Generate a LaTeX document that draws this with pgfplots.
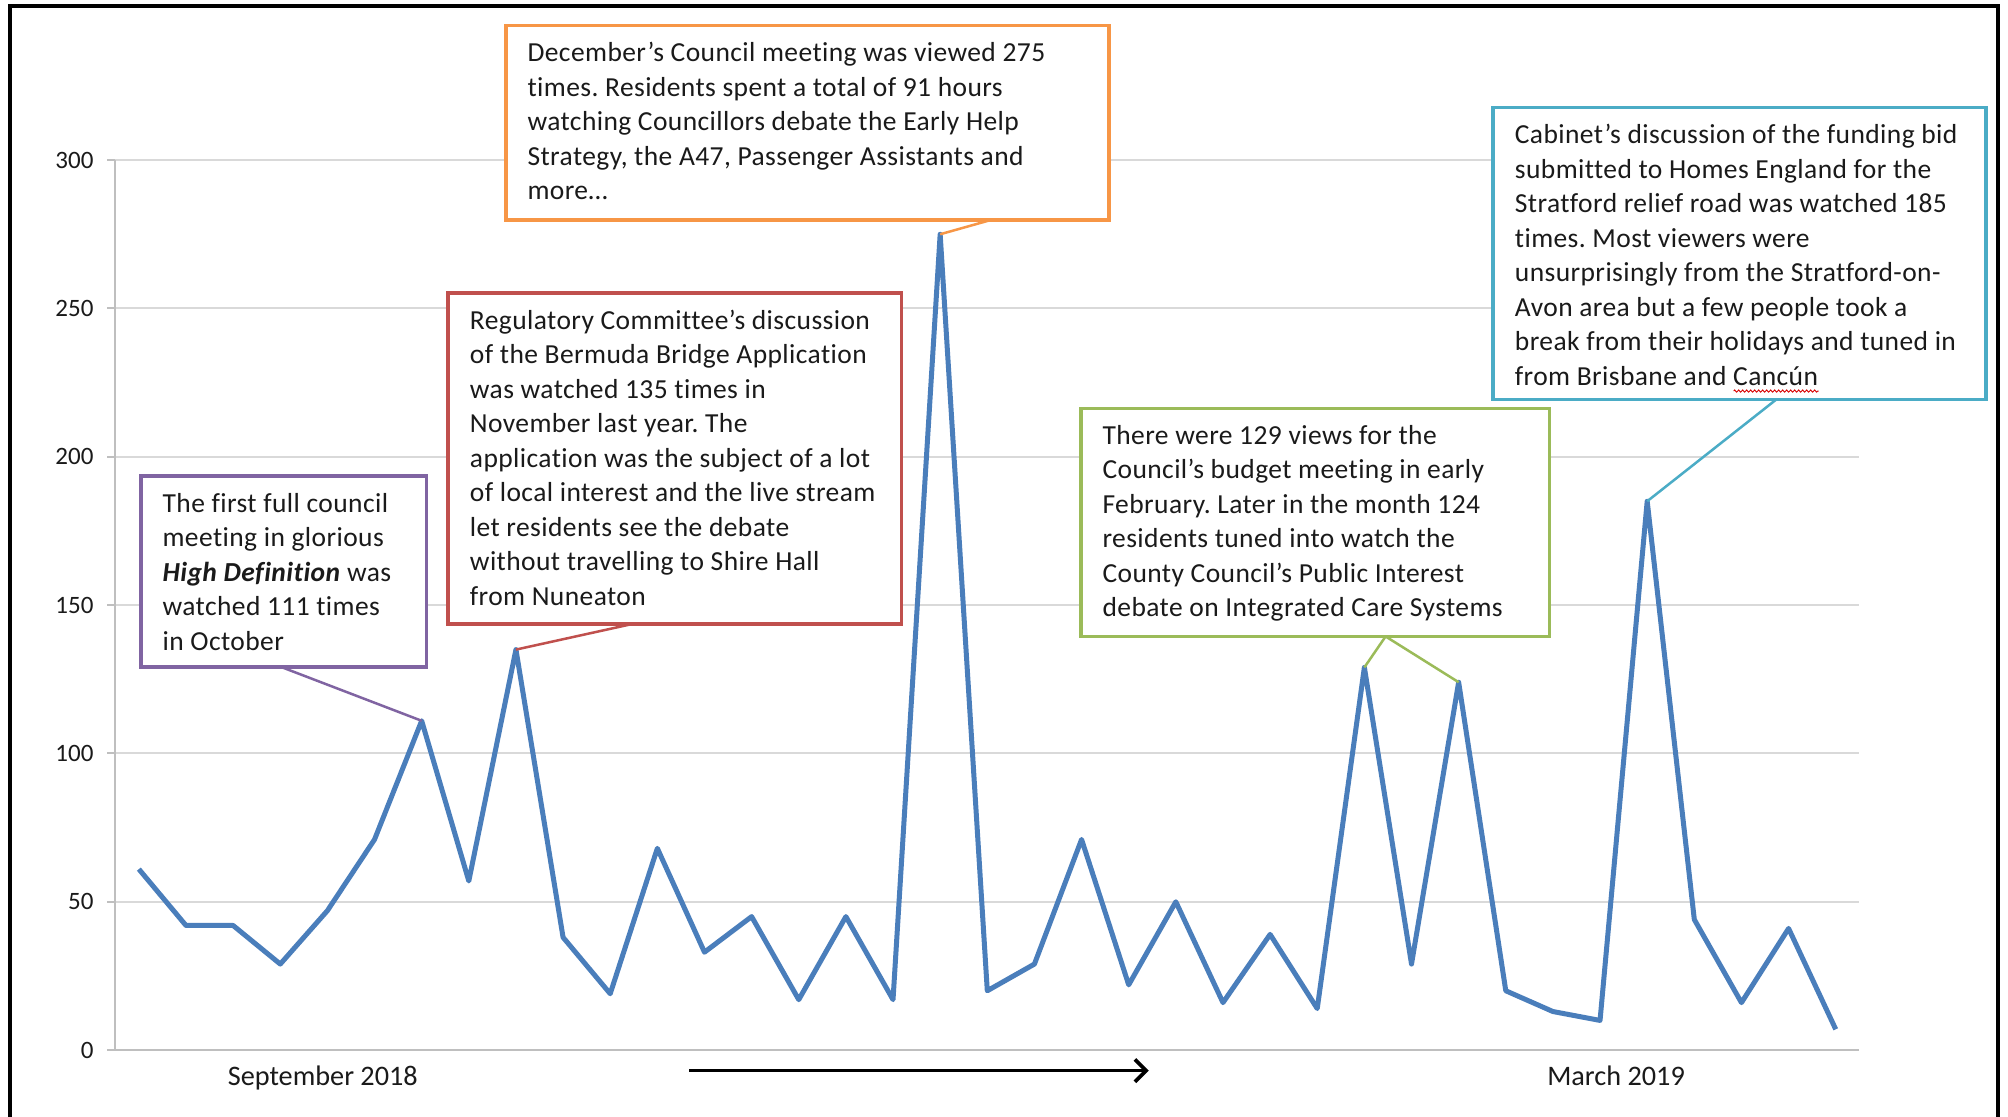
\documentclass[border=0pt]{standalone}
\usepackage{pgfplots}
\pgfplotsset{compat=1.18}
\usepackage{fontspec}
\setmainfont{Carlito}[Ligatures={NoCommon}]
\frenchspacing
\usetikzlibrary{arrows.meta,decorations.pathmorphing}
\definecolor{series}{HTML}{4A7EBB}
\definecolor{cpurple}{HTML}{8064A2}
\definecolor{cred}{HTML}{C0504D}
\definecolor{corange}{HTML}{F79646}
\definecolor{cgreen}{HTML}{9BBB59}
\definecolor{ccyan}{HTML}{4BACC6}
\definecolor{gridc}{HTML}{D9D9D9}
\definecolor{axisc}{HTML}{BFBFBF}
\definecolor{txt}{HTML}{1A1A1A}
\newsavebox\sqbox
\newcommand\squig[1]{\sbox\sqbox{#1}\makebox[0pt][l]{\raisebox{-2.4pt}[0pt][0pt]{\tikz[baseline=0pt]\draw[red!85!black, line width=0.35pt, decorate, decoration={zigzag, amplitude=0.45pt, segment length=1.6pt}] (0,0) -- (\wd\sqbox,0);}}\usebox\sqbox}
\newcommand\boxfont{\fontsize{11}{13.8}\selectfont\addfontfeature{LetterSpace=1.5}}
\begin{document}
\begin{tikzpicture}
\useasboundingbox (-46.12pt,-26.76pt) rectangle (757.08pt,420.04pt);
\fill[white] (-46.12pt,-26.76pt) rectangle (757.08pt,420.04pt);
\begin{axis}[
  at={(0,0)}, anchor=south west,
  width=697.6pt, height=356pt, scale only axis,
  xmin=0.5, xmax=37.5, ymin=0, ymax=300,
  axis lines*=left,
  axis line style={axisc, line width=0.8pt},
  xtick=\empty,
  ytick={0,50,100,150,200,250,300},
  ymajorgrids,
  grid style={gridc, line width=0.8pt},
  tick align=outside,
  major tick length=3.2pt,
  tick style={axisc, line width=0.8pt},
  yticklabel style={font=\fontsize{10}{12}\selectfont, text=txt, xshift=-2pt},
  /pgf/number format/assume math mode=true,
  clip=false,
]
\addplot[series, line width=2pt, mark=none, line join=round] coordinates {
(1,61)(2,42)(3,42)(4,29)(5,47)(6,71)(7,111)(8,57)(9,135)(10,38)
(11,19)(12,68)(13,33)(14,45)(15,17)(16,45)(17,17)(18,275)(19,20)(20,29)
(21,71)(22,22)(23,50)(24,16)(25,39)(26,14)(27,129)(28,29)(29,124)(30,20)
(31,13)(32,10)(33,185)(34,44)(35,16)(36,41)(37,7)};
\coordinate (p7) at (axis cs:7,111);
\coordinate (p9) at (axis cs:9,135);
\coordinate (p18) at (axis cs:18,275);
\coordinate (p27) at (axis cs:27,129);
\coordinate (p29) at (axis cs:29,124);
\coordinate (p33) at (axis cs:33,185);
\end{axis}
% frame
\draw[black, line width=1.8pt] (-42.1pt,-26.76pt) -- (-42.1pt,417.6pt) -- (753.1pt,417.6pt) -- (753.1pt,-26.76pt);
% month labels and arrow
\node[anchor=base, font=\fontsize{11.3}{13}\selectfont, text=txt] at (83.0pt,-14.1pt) {September 2018};
\node[anchor=base, font=\fontsize{11.3}{13}\selectfont, text=txt] at (600.3pt,-14.1pt) {March 2019};
\draw[black, line width=1.5pt, -{Straight Barb[length=4.5pt, width=9pt, line width=1.5pt]}] (229.5pt,-8.2pt) -- (413.4pt,-8.2pt);
% callout lines
\draw[cpurple, line width=1pt] (66.57pt,153.16pt) -- (p7);
\draw[cred, line width=1pt] (207.44pt,170.58pt) -- (p9);
\draw[corange, line width=1pt] (349.84pt,331.93pt) -- (p18);
\draw[cgreen, line width=1pt] (508.12pt,165.46pt) -- (p27);
\draw[cgreen, line width=1pt] (508.12pt,165.46pt) -- (p29);
\draw[ccyan, line width=1pt] (664.36pt,260.22pt) -- (p33);
% boxes
\draw[cpurple, line width=1.5pt, fill=white] (10.23pt,229.49pt) rectangle (124.46pt,153.16pt);
\node[anchor=north west, inner sep=0pt, align=left, font=\boxfont, text=txt] at (18.73pt,223.29pt) {\rule{0pt}{8pt}The first full council\\meeting in glorious\\\textbf{\textit{High Definition}} was\\watched 111 times\\in October};
\draw[cred, line width=1.5pt, fill=white] (133.16pt,302.74pt) rectangle (314.50pt,170.58pt);
\node[anchor=north west, inner sep=0pt, align=left, font=\boxfont, text=txt] at (141.66pt,296.54pt) {\rule{0pt}{8pt}Regulatory Committee’s discussion\\of the Bermuda Bridge Application\\was watched 135 times in\\November last year. The\\application was the subject of a lot\\of local interest and the live stream\\let residents see the debate\\without travelling to Shire Hall\\from Nuneaton};
\draw[corange, line width=1.5pt, fill=white] (156.21pt,409.80pt) rectangle (397.48pt,331.93pt);
\node[anchor=north west, inner sep=0pt, align=left, font=\boxfont, text=txt] at (164.71pt,403.60pt) {\rule{0pt}{8pt}December’s Council meeting was viewed 275\\times. Residents spent a total of 91 hours\\watching Councillors debate the Early Help\\Strategy, the A47, Passenger Assistants and\\more…};
\draw[cgreen, line width=1.5pt, fill=white] (386.21pt,256.64pt) rectangle (573.69pt,165.46pt);
\node[anchor=north west, inner sep=0pt, align=left, font=\boxfont, text=txt] at (394.71pt,250.44pt) {\rule{0pt}{8pt}There were 129 views for the\\Council’s budget meeting in early\\February. Later in the month 124\\residents tuned into watch the\\County Council’s Public Interest\\debate on Integrated Care Systems};
\draw[ccyan, line width=1.5pt, fill=white] (551.15pt,377.01pt) rectangle (748.37pt,260.22pt);
\node[anchor=north west, inner sep=0pt, align=left, font=\boxfont, text=txt] at (559.65pt,370.81pt) {\rule{0pt}{8pt}Cabinet’s discussion of the funding bid\\submitted to Homes England for the\\Stratford relief road was watched 185\\times. Most viewers were\\unsurprisingly from the Stratford-on-\\Avon area but a few people took a\\break from their holidays and tuned in\\from Brisbane and \squig{Cancún}};
\end{tikzpicture}
\end{document}
